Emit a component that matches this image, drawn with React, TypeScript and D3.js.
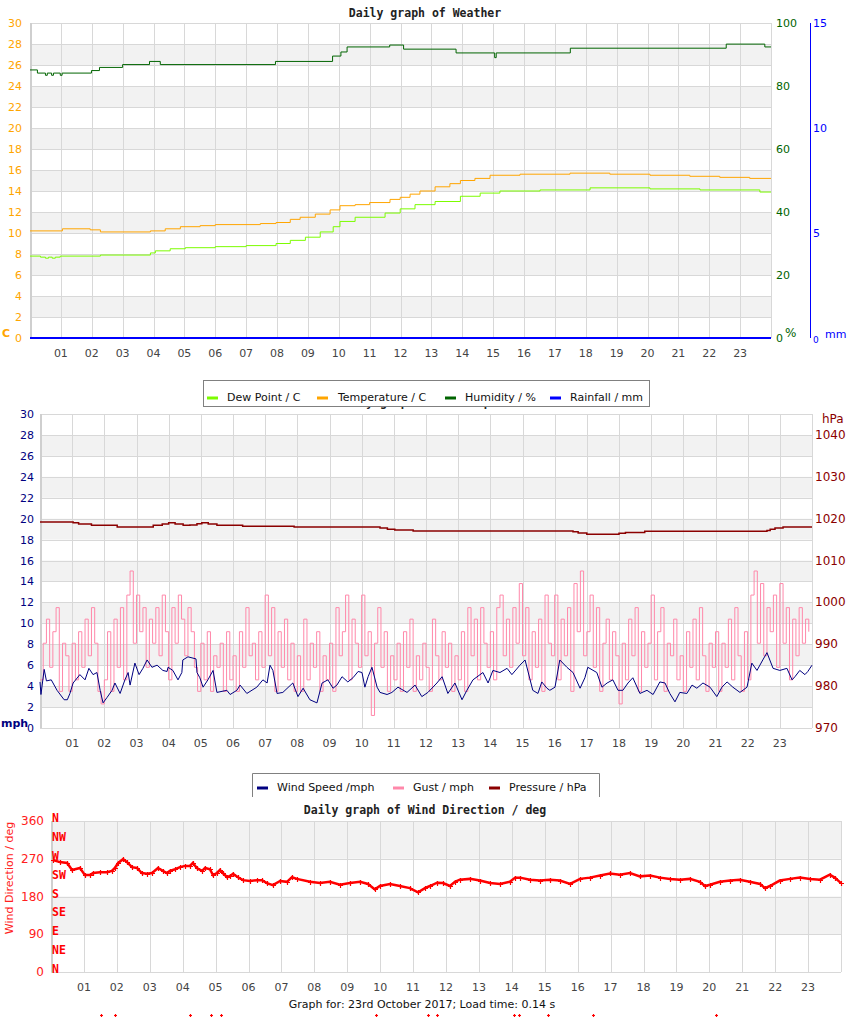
import { useEffect, useRef } from 'react';
import * as d3 from 'd3';

// labels along the bottom of every panel
const hourLabels = ['01', '02', '03', '04', '05', '06', '07', '08', '09', '10', '11', '12',
    '13', '14', '15', '16', '17', '18', '19', '20', '21', '22', '23'];

const tempTicks = [0, 2, 4, 6, 8, 10, 12, 14, 16, 18, 20, 22, 24, 26, 28, 30];
const humidityTicks = [0, 20, 40, 60, 80, 100];
const rainTicks = [0, 5, 10, 15];
const windTicks = [0, 2, 4, 6, 8, 10, 12, 14, 16, 18, 20, 22, 24, 26, 28, 30];
const pressureTicks = [970, 980, 990, 1000, 1010, 1020, 1030, 1040];
const dirTicks = [0, 90, 180, 270, 360];
const compassLabels = ['N', 'NE', 'E', 'SE', 'S', 'SW', 'W', 'NW', 'N'];
const compassDegrees = [0, 45, 90, 135, 180, 225, 270, 315, 360];

// [hour, value] step readings
const temperature = [
    [0, 10.2], [1.05, 10.4], [1.95, 10.3], [2.28, 10.1], [3.9, 10.2], [4.38, 10.4], [4.87, 10.6],
    [5.51, 10.7], [6.0, 10.8], [7.46, 10.9], [7.97, 11.0], [8.43, 11.3], [8.75, 11.5], [9.24, 11.8],
    [9.72, 12.2], [10.04, 12.6], [10.53, 12.7], [11.0, 12.9], [11.66, 13.2], [11.99, 13.4],
    [12.31, 13.7], [12.63, 14.0], [13.12, 14.4], [13.6, 14.7], [13.94, 15.0], [14.41, 15.2],
    [14.9, 15.5], [15.87, 15.6], [17.49, 15.7], [18.78, 15.6], [20.08, 15.5], [21.37, 15.4],
    [22.34, 15.3], [23.31, 15.2], [24, 15.2],
];

const dewPoint = [
    [0, 7.8], [0.34, 7.7], [0.5, 7.6], [0.6, 7.7], [0.72, 7.6], [0.82, 7.7], [0.98, 7.8],
    [2.28, 7.9], [3.9, 8.1], [4.06, 8.3], [4.54, 8.5], [5.03, 8.6], [6.0, 8.7], [7.0, 8.8],
    [7.97, 9.0], [8.43, 9.3], [8.92, 9.6], [9.4, 10.1], [9.82, 10.6], [10.04, 11.1], [10.53, 11.5],
    [11.5, 11.9], [11.99, 12.3], [12.47, 12.7], [13.12, 13.0], [13.94, 13.5], [14.58, 13.8],
    [15.22, 14.0], [16.52, 14.1], [18.14, 14.3], [20.08, 14.2], [21.7, 14.1], [23.64, 13.9], [24, 13.9],
];

const humidity = [
    [0, 85.1], [0.24, 84.1], [0.5, 83.4], [0.56, 84.1], [0.7, 83.4], [0.76, 84.1], [0.98, 83.4],
    [1.04, 84.1], [1.99, 84.9], [2.25, 85.9], [3.0, 86.8], [3.87, 87.8], [4.22, 86.8], [7.95, 87.8],
    [9.8, 89.5], [10.07, 90.8], [10.27, 92.4], [11.65, 93.0], [12.1, 91.7], [13.8, 90.5],
    [15.05, 89.0], [15.1, 90.5], [17.5, 92.0], [22.55, 93.3], [23.8, 92.4], [24, 92.4],
];

const rainfall = [[0, 0], [24, 0]];

const pressure = [
    [0, 1019.2], [1.03, 1019.0], [1.2, 1018.7], [1.6, 1018.4], [2.4, 1018.0], [3.52, 1018.4],
    [3.8, 1018.7], [4.0, 1019.0], [4.2, 1018.7], [4.45, 1018.4], [4.66, 1018.5], [4.88, 1018.8],
    [5.03, 1019.0], [5.23, 1018.7], [5.5, 1018.4], [6.3, 1018.2], [7.9, 1018.0], [10.57, 1017.8],
    [10.8, 1017.5], [11.03, 1017.3], [11.6, 1017.05], [16.57, 1016.9], [16.73, 1016.6],
    [17.0, 1016.25], [18.0, 1016.5], [18.2, 1016.7], [18.8, 1017.0], [22.6, 1017.2],
    [22.7, 1017.5], [22.85, 1017.8], [23.1, 1018.0], [24, 1018.0],
];

const windSpeed = [
    [0.0, 4.4], [0.03, 3.2], [0.13, 5.6], [0.2, 4.5], [0.35, 4.6], [0.53, 3.6], [0.75, 2.7],
    [0.85, 2.7], [0.93, 3.3], [1.03, 4.3], [1.24, 5.1], [1.4, 4.6], [1.52, 5.7], [1.65, 5.1],
    [1.77, 5.3], [1.87, 3.6], [1.96, 2.4], [2.08, 2.9], [2.24, 3.6], [2.33, 4.3], [2.49, 3.3],
    [2.64, 4.6], [2.74, 5.3], [2.8, 4.1], [2.95, 6.2], [3.08, 5.1], [3.2, 5.7], [3.33, 6.5],
    [3.48, 5.8], [3.64, 6.0], [3.82, 5.5], [3.95, 5.4], [3.98, 5.8], [4.13, 5.5], [4.29, 4.6],
    [4.41, 5.3], [4.44, 6.5], [4.6, 6.8], [4.85, 6.6], [4.88, 5.3], [4.97, 4.8], [5.07, 3.9],
    [5.22, 4.6], [5.38, 5.5], [5.5, 3.4], [5.81, 3.6], [5.91, 3.2], [6.12, 3.6], [6.22, 4.1],
    [6.43, 3.3], [6.74, 3.9], [6.93, 4.6], [7.06, 4.3], [7.15, 6.0], [7.24, 5.5], [7.37, 3.3],
    [7.55, 3.4], [7.86, 4.3], [8.02, 3.0], [8.18, 3.8], [8.39, 2.7], [8.61, 2.4], [8.77, 4.3],
    [8.95, 4.6], [9.11, 3.8], [9.23, 4.1], [9.39, 4.9], [9.57, 4.4], [9.73, 4.8], [9.89, 5.4],
    [10.01, 5.3], [10.1, 3.9], [10.2, 4.9], [10.32, 5.8], [10.48, 3.9], [10.57, 3.4], [10.79, 3.2],
    [10.94, 3.4], [11.13, 3.9], [11.41, 3.4], [11.66, 4.1], [11.87, 3.0], [12.06, 3.4], [12.34, 4.3],
    [12.5, 4.9], [12.68, 3.3], [12.9, 4.3], [13.12, 2.7], [13.27, 3.6], [13.46, 4.6], [13.77, 5.3],
    [13.93, 4.3], [14.08, 5.5], [14.3, 5.3], [14.52, 5.7], [14.67, 5.1], [14.92, 6.0], [15.08, 6.5],
    [15.32, 3.6], [15.48, 3.3], [15.6, 4.4], [15.76, 3.8], [15.85, 3.6], [16.01, 3.9], [16.16, 6.5],
    [16.38, 5.8], [16.57, 5.3], [16.79, 3.8], [16.94, 4.8], [17.03, 5.8], [17.31, 5.3], [17.47, 3.9],
    [17.63, 4.3], [17.81, 4.6], [17.97, 3.6], [18.12, 3.6], [18.28, 4.3], [18.43, 4.8], [18.65, 3.3],
    [18.87, 3.6], [19.06, 3.2], [19.27, 4.4], [19.43, 4.3], [19.58, 3.3], [19.74, 2.5], [19.89, 3.4],
    [20.11, 3.3], [20.27, 4.1], [20.42, 3.8], [20.61, 4.3], [20.83, 3.9], [21.04, 3.0], [21.2, 3.9],
    [21.36, 4.4], [21.54, 3.9], [21.76, 3.4], [21.98, 3.9], [22.13, 6.2], [22.29, 5.5], [22.47, 6.5],
    [22.6, 7.2], [22.79, 5.7], [23.0, 5.5], [23.22, 5.7], [23.38, 4.6], [23.47, 4.9], [23.62, 5.5],
    [23.78, 5.1], [23.87, 5.4], [24.0, 6.0],
];

// gust readings every 6 minutes, from 00:00
const gustStep = 0.1;
const gust = [
    4.6, 8.1, 10.4, 5.8, 9.2, 11.5, 3.5, 8.1, 6.9, 3.5,
    8.1, 4.6, 9.2, 5.8, 10.4, 6.9, 11.5, 8.1, 3.5, 2.3,
    4.6, 9.2, 3.5, 10.4, 5.8, 11.5, 4.6, 12.7, 15.0, 8.1,
    12.7, 9.2, 11.5, 5.8, 10.4, 8.1, 11.5, 6.9, 12.7, 9.2,
    4.6, 11.5, 8.1, 12.7, 10.4, 6.9, 11.5, 9.2, 5.8, 3.5,
    8.1, 4.6, 9.2, 3.5, 6.9, 5.8, 8.1, 3.5, 9.2, 4.6,
    6.9, 3.5, 9.2, 5.8, 11.5, 6.9, 8.1, 4.6, 9.2, 5.8,
    12.7, 6.9, 11.5, 3.5, 9.2, 5.8, 10.4, 4.6, 8.1, 3.5,
    6.9, 3.5, 10.4, 4.6, 8.1, 5.8, 9.2, 3.5, 6.9, 4.6,
    8.1, 3.5, 11.5, 6.9, 9.2, 12.7, 4.6, 10.4, 8.1, 5.8,
    12.7, 6.9, 9.2, 1.2, 8.1, 11.5, 5.8, 9.2, 3.5, 6.9,
    4.6, 8.1, 3.5, 9.2, 5.8, 10.4, 3.5, 6.9, 4.6, 8.1,
    5.8, 3.5, 10.4, 6.9, 4.6, 9.2, 5.8, 8.1, 3.5, 6.9,
    4.6, 9.2, 3.5, 11.5, 6.9, 10.4, 4.6, 11.5, 8.1, 5.8,
    9.2, 4.6, 11.5, 12.7, 6.9, 10.4, 5.8, 11.5, 8.1, 13.8,
    6.9, 11.5, 4.6, 9.2, 5.8, 10.4, 3.5, 12.7, 8.1, 6.9,
    12.7, 4.6, 10.4, 6.9, 11.5, 3.5, 13.8, 9.2, 15.0, 6.9,
    9.2, 12.7, 5.8, 11.5, 3.5, 8.1, 10.4, 4.6, 9.2, 6.9,
    2.3, 8.1, 4.6, 10.4, 6.9, 11.5, 3.5, 9.2, 5.8, 8.1,
    12.7, 4.6, 9.2, 11.5, 3.5, 8.1, 6.9, 10.4, 4.6, 6.9,
    3.5, 9.2, 5.8, 10.4, 4.6, 11.5, 6.9, 3.5, 8.1, 5.8,
    9.2, 3.5, 8.1, 5.8, 10.4, 4.6, 11.5, 6.9, 3.5, 9.2,
    4.6, 12.7, 15.0, 8.1, 13.8, 6.9, 11.5, 9.2, 12.7, 5.8,
    13.8, 8.1, 11.5, 4.6, 10.4, 6.9, 11.5, 8.1, 10.4, 9.2,
];

const windDirection = [
    [0.06, 267], [0.27, 262], [0.49, 260], [0.64, 243], [0.88, 248], [1.03, 231], [1.18, 231],
    [1.28, 236], [1.49, 238], [1.7, 238], [1.85, 241], [1.94, 248], [2.04, 260], [2.19, 269],
    [2.31, 262], [2.46, 250], [2.61, 248], [2.76, 236], [2.92, 234], [3.07, 236], [3.25, 248],
    [3.4, 241], [3.52, 236], [3.61, 241], [3.77, 245], [3.92, 250], [4.07, 253], [4.22, 253],
    [4.31, 260], [4.43, 248], [4.59, 241], [4.68, 248], [4.83, 245], [4.92, 231], [5.04, 236],
    [5.13, 243], [5.22, 236], [5.35, 226], [5.44, 229], [5.53, 234], [5.68, 226], [5.83, 219],
    [6.04, 217], [6.26, 219], [6.41, 219], [6.56, 212], [6.74, 207], [6.96, 217], [7.17, 215],
    [7.32, 226], [7.47, 222], [7.87, 215], [8.17, 212], [8.47, 215], [8.78, 208], [9.08, 212],
    [9.39, 215], [9.63, 210], [9.84, 197], [9.99, 205], [10.3, 210], [10.6, 205], [10.9, 200],
    [11.15, 190], [11.36, 200], [11.51, 205], [11.73, 213], [11.91, 212], [12.12, 205],
    [12.27, 215], [12.42, 220], [12.73, 222], [13.03, 218], [13.34, 212], [13.64, 210],
    [13.94, 215], [14.1, 225], [14.25, 225], [14.55, 220], [14.85, 218], [15.16, 220],
    [15.46, 218], [15.77, 210], [16.07, 222], [16.37, 225], [16.68, 230], [16.98, 235],
    [17.28, 232], [17.59, 236], [17.89, 228], [18.2, 230], [18.5, 225], [18.8, 222], [19.11, 220],
    [19.41, 222], [19.71, 215], [19.87, 205], [20.02, 208], [20.32, 215], [20.63, 218],
    [20.93, 220], [21.23, 215], [21.54, 210], [21.69, 200], [21.84, 205], [22.14, 218],
    [22.45, 222], [22.75, 225], [23.06, 222], [23.36, 220], [23.66, 232], [23.81, 225], [24.0, 212],
];

// calm readings plotted below the direction scale
const windDirectionCalm = [
    [1.52, -103], [1.95, -103], [4.22, -103], [4.86, -103], [5.17, -103], [9.88, -103],
    [11.46, -103], [11.73, -103], [14.07, -103], [14.22, -103], [15.1, -103], [16.47, -103], [20.2, -103],
];

const SANS = 'DejaVu Sans, Verdana, sans-serif';
const MONO = 'DejaVu Sans Mono, monospace';

const App = () => {
    const svgRef = useRef<SVGSVGElement>(null);

    useEffect(() => {
        const svg = d3.select(svgRef.current);
        svg.selectAll('*').remove();

        // bands, grid lines, left edge
        const drawGrid = (x, y, ticks) => {
            const g = svg.append('g');
            const [x0, x1] = x.range();
            ticks.slice(1).forEach((t, i) => {
                if (i % 2 === 1) {
                    g.append('rect')
                        .attr('x', x0)
                        .attr('y', y(t))
                        .attr('width', x1 - x0)
                        .attr('height', y(ticks[i]) - y(t))
                        .attr('fill', '#f2f2f2');
                }
            });
            ticks.forEach((t) => {
                g.append('line')
                    .attr('x1', x0)
                    .attr('x2', x1)
                    .attr('y1', Math.round(y(t)) + 0.5)
                    .attr('y2', Math.round(y(t)) + 0.5)
                    .attr('stroke', '#d8d8d8');
            });
            x.ticks(24).forEach((h) => {
                g.append('line')
                    .attr('x1', Math.round(x(h)) + 0.5)
                    .attr('x2', Math.round(x(h)) + 0.5)
                    .attr('y1', y.range()[0])
                    .attr('y2', y.range()[1])
                    .attr('stroke', '#d8d8d8');
            });
            g.append('line')
                .attr('x1', x0 + 1)
                .attr('x2', x0 + 1)
                .attr('y1', y.range()[0])
                .attr('y2', y.range()[1])
                .attr('stroke', '#cfcfcf')
                .attr('stroke-width', 2);
        };

        const drawHours = (x, baseline) => {
            svg.append('g')
                .selectAll('text')
                .data(hourLabels)
                .join('text')
                .attr('x', (d) => x(+d))
                .attr('y', baseline)
                .attr('text-anchor', 'middle')
                .attr('font-family', SANS)
                .attr('font-size', 11)
                .attr('fill', '#444')
                .text((d) => d);
        };

        const drawYLabels = (y, ticks, xPos, anchor, color, size = 11) => {
            svg.append('g')
                .selectAll('text')
                .data(ticks)
                .join('text')
                .attr('x', xPos)
                .attr('y', (d) => y(d) + 4)
                .attr('text-anchor', anchor)
                .attr('font-family', SANS)
                .attr('font-size', size)
                .attr('fill', color)
                .text((d) => d);
        };

        const label = (x, y, text, color, opts: any = {}) =>
            svg.append('text')
                .attr('x', x)
                .attr('y', y)
                .attr('font-family', opts.family || SANS)
                .attr('font-size', opts.size || 11)
                .attr('font-weight', opts.weight || 'normal')
                .attr('text-anchor', opts.anchor || 'start')
                .attr('fill', color)
                .text(text);

        const drawLine = (x, y, data, color, width = 1, curve = d3.curveStepAfter) =>
            svg.append('path')
                .datum(data)
                .attr('fill', 'none')
                .attr('stroke', color)
                .attr('stroke-width', width)
                .attr('d', d3.line().x((d) => x(d[0])).y((d) => y(d[1])).curve(curve));

        // ---------- Weather ----------
        const x1 = d3.scaleLinear().domain([0, 24]).range([30, 771]);
        const yTemp = d3.scaleLinear().domain([0, 30]).range([338, 23]);
        const yHum = d3.scaleLinear().domain([0, 100]).range([338, 23]);
        const yRain = d3.scaleLinear().domain([0, 15]).range([338, 23]);

        label(425, 17, 'Daily graph of Weather', '#222', { family: MONO, weight: 'bold', anchor: 'middle', size: 11.5 });
        drawGrid(x1, yTemp, tempTicks);
        drawLine(x1, yHum, humidity, '#006400');
        drawLine(x1, yTemp, temperature, '#ffa500');
        drawLine(x1, yTemp, dewPoint, '#7cfc00');
        drawLine(x1, yRain, rainfall, '#0000ff', 2);
        drawHours(x1, 357);
        drawYLabels(yTemp, tempTicks, 22, 'end', '#ffa500');
        drawYLabels(yHum, humidityTicks, 776, 'start', '#006400');
        drawYLabels(yRain, rainTicks.slice(1), 813, 'start', '#0000ff');
        label(813, 343, '0', '#0000ff', { size: 9 });
        svg.append('line')
            .attr('x1', 810.5)
            .attr('x2', 810.5)
            .attr('y1', yRain(15))
            .attr('y2', yRain(0))
            .attr('stroke', '#0000ff');
        label(2, 337, 'C', '#ffa500', { weight: 'bold' });
        label(785, 337, '%', '#006400', { size: 12 });
        label(825, 338, 'mm', '#0000ff');

        // ---------- Wind speed / pressure ----------
        const x2 = d3.scaleLinear().domain([0, 24]).range([40, 812]);
        const yWind = d3.scaleLinear().domain([0, 30]).range([728, 414]);
        const yPres = d3.scaleLinear().domain([970, 1045]).range([728, 414]);

        // title sits under the legend box, only its descenders show
        svg.append('clipPath')
            .attr('id', 'under-legend')
            .append('rect')
            .attr('x', 0)
            .attr('y', 406)
            .attr('width', 850)
            .attr('height', 8);
        label(425, 406, 'Daily graph of Wind Speed', '#222', { family: MONO, weight: 'bold', anchor: 'middle', size: 11.5 })
            .attr('clip-path', 'url(#under-legend)');

        drawGrid(x2, yWind, windTicks);
        drawLine(x2, yWind, gust.map((v, i) => [i * gustStep, v]), '#ff88aa', 1, d3.curveStepAfter);
        drawLine(x2, yWind, windSpeed, '#000080', 1, d3.curveLinear);
        drawLine(x2, yPres, pressure, '#8b0000', 1.5);
        drawHours(x2, 747);
        drawYLabels(yWind, windTicks, 34, 'end', '#000080');
        drawYLabels(yPres, pressureTicks, 815, 'start', '#8b0000', 12);
        label(822, 423, 'hPa', '#8b0000', { size: 12 });
        label(1, 727, 'mph', '#000080', { weight: 'bold' });

        // legend of the weather panel
        const legend1 = [
            ['Dew Point / C', '#7cfc00', 207, 227],
            ['Temperature / C', '#ffa500', 317, 338],
            ['Humidity / %', '#006400', 445, 465],
            ['Rainfall / mm', '#0000ff', 550, 570],
        ];
        svg.append('rect')
            .attr('x', 203.5)
            .attr('y', 380.5)
            .attr('width', 446)
            .attr('height', 26)
            .attr('fill', '#fff')
            .attr('stroke', '#808080');
        legend1.forEach(([name, color, lx, tx]) => {
            svg.append('line')
                .attr('x1', lx)
                .attr('x2', +lx + 11)
                .attr('y1', 398)
                .attr('y2', 398)
                .attr('stroke', color)
                .attr('stroke-width', 3);
            label(tx, 401, name, '#111');
        });

        // ---------- Wind direction ----------
        const x3 = d3.scaleLinear().domain([0, 24]).range([51, 841]);
        const yDir = d3.scaleLinear().domain([0, 360]).range([972, 821]);

        label(425, 814, 'Daily graph of Wind Direction / deg', '#222', { family: MONO, weight: 'bold', anchor: 'middle', size: 11.5 });

        // legend of the wind panel (open at the bottom)
        const legend2 = [
            ['Wind Speed /mph', '#000080', 257, 277],
            ['Gust / mph', '#ff88aa', 393, 413],
            ['Pressure / hPa', '#8b0000', 489, 509],
        ];
        svg.append('path')
            .attr('d', 'M252.5,797 V773.5 H599.5 V797')
            .attr('fill', '#fff')
            .attr('stroke', '#808080');
        legend2.forEach(([name, color, lx, tx]) => {
            svg.append('line')
                .attr('x1', lx)
                .attr('x2', +lx + 11)
                .attr('y1', 788)
                .attr('y2', 788)
                .attr('stroke', color)
                .attr('stroke-width', 3);
            label(tx, 791, name, '#111');
        });

        drawGrid(x3, yDir, dirTicks);
        drawLine(x3, yDir, windDirection, '#ff0000', 2.5, d3.curveLinear);

        const plus = (data, arm) =>
            svg.append('g')
                .selectAll('path')
                .data(data)
                .join('path')
                .attr('d', (d) => {
                    const cx = Math.round(x3(d[0])) + 0.5;
                    const cy = Math.round(yDir(d[1])) + 0.5;
                    return `M${cx - arm},${cy}H${cx + arm}M${cx},${cy - arm}V${cy + arm}`;
                })
                .attr('stroke', '#ff0000')
                .attr('stroke-width', 1.2);
        plus(windDirection, 2.5);
        plus(windDirectionCalm, 1.5);

        drawHours(x3, 991);
        drawYLabels(yDir, dirTicks, 44, 'end', '#ff2020', 12);
        svg.append('g')
            .selectAll('text')
            .data(compassLabels)
            .join('text')
            .attr('x', 52)
            .attr('y', (d, i) => yDir(compassDegrees[i]) + 1)
            .attr('font-family', MONO)
            .attr('font-weight', 'bold')
            .attr('font-size', 11.5)
            .attr('fill', '#ff0000')
            .text((d) => d);
        svg.append('text')
            .attr('transform', 'rotate(-90)')
            .attr('x', -878)
            .attr('y', 13)
            .attr('text-anchor', 'middle')
            .attr('font-family', SANS)
            .attr('font-size', 11)
            .attr('fill', '#ff2020')
            .text('Wind Direction / deg');

        label(422, 1008, 'Graph for: 23rd October 2017; Load time: 0.14 s', '#111', { anchor: 'middle' });
    }, []);

    return (
        <svg
            ref={svgRef}
            width={850}
            height={1017}
            style={{ position: 'absolute', left: 0, top: 0, background: '#fff' }}
        />
    );
};

export default App;
